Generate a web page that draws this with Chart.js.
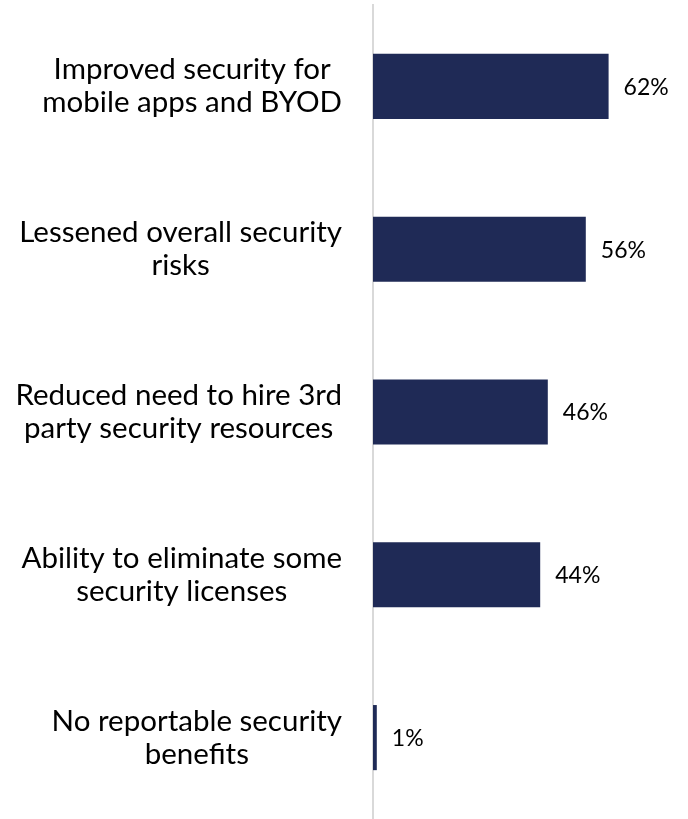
<!DOCTYPE html>
<html>
<head>
<meta charset="utf-8">
<script src="https://cdn.jsdelivr.net/npm/chart.js@4"></script>
<style>
  html, body { margin: 0; padding: 0; background: #fff; }
  #wrap { width: 688px; height: 819px; }
</style>
</head>
<body>
<div id="wrap"><canvas id="benefitChart"></canvas></div>
<script>
// ------------------- data -------------------
const categories = [
  ["Improved security for", "mobile apps and BYOD"],
  ["Lessened overall security", "risks"],
  ["Reduced need to hire 3rd", "party security resources"],
  ["Ability to eliminate some", "security licenses"],
  ["No reportable security", "benefits"]
];
const percents = [62, 56, 46, 44, 1];

const barColor = "#1f2a56";
const labelFont = "29.5px Lato, 'Liberation Sans', sans-serif";
const valueFont = "23px Lato, 'Liberation Sans', sans-serif";

// category labels: each block right-aligned, lines centred inside it
const catLabels = {
  id: "catLabels",
  afterDraw(chart) {
    const ctx = chart.ctx;
    const y = chart.scales.y;
    ctx.save();
    ctx.font = labelFont;
    ctx.fillStyle = "#000";
    ctx.textAlign = "center";
    ctx.textBaseline = "middle";
    const lineH = 33;
    categories.forEach((lines, i) => {
      const cy = y.getPixelForValue(i);
      const w = Math.max(...lines.map(l => ctx.measureText(l).width));
      const cx = 342 - w / 2;
      const top = cy - (lines.length - 1) * lineH / 2;
      lines.forEach((l, j) => ctx.fillText(l, cx, top + j * lineH));
    });
    ctx.restore();
  }
};

// value labels to the right of each bar
const valueLabels = {
  id: "valueLabels",
  afterDatasetsDraw(chart) {
    const ctx = chart.ctx;
    const meta = chart.getDatasetMeta(0);
    ctx.save();
    ctx.font = valueFont;
    ctx.fillStyle = "#000";
    ctx.textAlign = "left";
    ctx.textBaseline = "middle";
    meta.data.forEach((bar, i) => {
      ctx.fillText(percents[i] + "%", bar.x + 15, bar.y + 1);
    });
    ctx.restore();
  }
};

new Chart(document.getElementById("benefitChart").getContext("2d"), {
  type: "bar",
  data: {
    labels: categories,
    datasets: [{
      data: percents,
      backgroundColor: barColor,
      barPercentage: 0.4,
      categoryPercentage: 1
    }]
  },
  options: {
    indexAxis: "y",
    responsive: true,
    maintainAspectRatio: false,
    animation: false,
    layout: { padding: { left: 373, right: 11, top: 5, bottom: 0 } },
    plugins: { legend: { display: false }, tooltip: { enabled: false } },
    scales: {
      x: { display: false, min: 0, max: 80 },
      y: {
        afterFit: s => { s.width = 0; },
        ticks: { display: false },
        grid: { display: false },
        border: { display: true, color: "#d9d9d9", width: 2 }
      }
    }
  },
  plugins: [catLabels, valueLabels]
});
</script>
</body>
</html>
